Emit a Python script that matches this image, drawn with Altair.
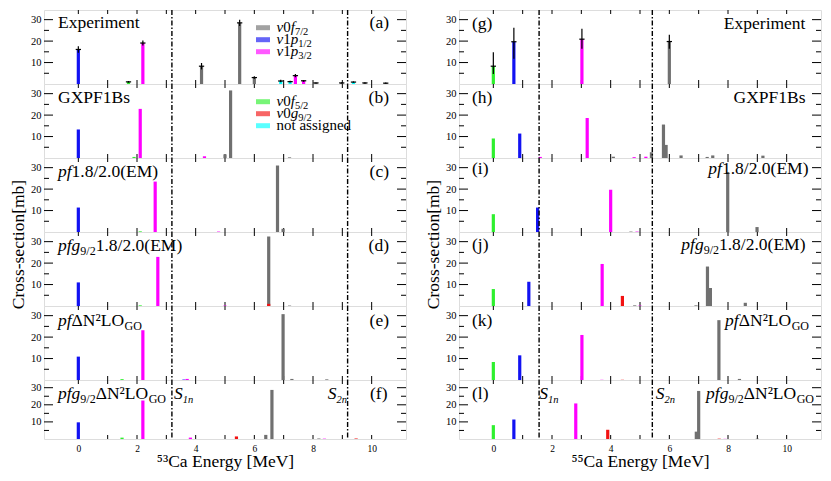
import altair as alt
import pandas as pd

FONT = "Liberation Serif"
W = 362
H = 74
HF = 59
XMIN, XMAX = -1, 11
YMAX = 34.5
BIG = 17.5
SUB = 12.0
SUBDY = 4

ORB_KEYS = ["f72", "p12", "p32", "f52", "g92", "na"]
ORB_COLORS = ["#707070", "#1212f2", "#ff00ff", "#2ef02e", "#f21212", "#00ffff"]

# ---------------- 53Ca (left column) ----------------
a_E = [0.0, 1.71, 2.2, 4.2, 5.5, 6.0, 6.9, 7.22, 7.4, 7.68, 8.1, 8.98, 9.38, 9.77, 10.48]
a_v = [16.1, 1.0, 19.1, 8.3, 28.5, 3.0, 1.4, 1.1, 3.9, 1.5, 0.5, 0.5, 0.9, 0.5, 0.4]
a_err = [1.5, 0.4, 1.2, 1.5, 1.5, 0.6, 0.6, 0.4, 0.8, 0.4, 0.2, 0.3, 0.3, 0.3, 0.3]
a_o = ["p12", "f52", "p32", "f72", "f72", "f72", "na", "na", "p32", "p32", "f72", "f72", "na", "f72", "f72"]

b_E = [0.0, 1.9, 2.11, 4.3, 5.0, 5.19, 7.2]
b_v = [13.3, 0.5, 22.9, 0.8, 1.7, 31.5, 0.3]
b_o = ["p12", "f52", "p32", "p32", "f72", "f72", "f72"]

c_E = [0.0, 2.11, 2.62, 4.78, 6.79, 6.98]
c_v = [11.4, 0.3, 23.5, 0.2, 31.0, 1.5]
c_o = ["p12", "f52", "p32", "p32", "f72", "f72"]

d_E = [0.0, 2.11, 2.71, 5.0, 6.49, 6.49, 7.2]
d_v = [11.0, 0.3, 22.9, 0.2, 32.4, 1.0, 0.2]
d_o = ["p12", "f52", "p32", "p32", "f72", "g92", "f72"]

e_E = [0.0, 1.49, 2.2, 3.6, 3.71, 6.98, 7.28, 8.47]
e_v = [10.9, 0.4, 23.2, 0.2, 0.5, 30.7, 0.5, 0.3]
e_o = ["p12", "f52", "p32", "p12", "p32", "f72", "f72", "f72"]

f_E = [0.0, 1.49, 2.2, 3.82, 5.39, 6.39, 6.6, 8.2, 8.39, 9.47]
f_v = [9.75, 0.8, 22.5, 0.8, 1.5, 2.4, 28.7, 0.3, 0.2, 0.3]
f_o = ["p12", "f52", "p32", "p32", "g92", "f72", "f72", "f72", "p32", "g92"]

S_53 = [3.19, 9.18]

# ---------------- 55Ca (right column) ----------------
g_E = [0.0, 0.7, 3.02, 6.0]
g_v = [8.3, 19.7, 20.9, 19.8]
g_lo = [4.7, 11.8, 16.4, 16.4]
g_hi = [14.8, 26.2, 25.8, 23.0]
g_o = ["f52", "p12", "p32", "f72"]

h_E = [0.0, 0.9, 1.6, 3.2, 4.09, 4.8, 5.2, 5.39, 5.8, 5.89, 6.4, 7.29, 7.48, 9.19]
h_v = [9.1, 11.4, 0.5, 18.6, 0.6, 0.4, 0.6, 2.7, 15.6, 6.1, 1.2, 0.5, 1.2, 1.1]
h_o = ["f52", "p12", "p32", "p32", "f72", "p32", "p32", "f72", "f72", "f72", "f72", "f72", "f72", "f72"]

i_E = [0.0, 1.51, 4.0, 4.69, 4.9, 7.99, 8.99]
i_v = [8.3, 11.4, 19.7, 0.2, 0.2, 28.0, 2.3]
i_o = ["f52", "p12", "p32", "f72", "p32", "f72", "f72"]

j_E = [0.0, 1.21, 3.71, 4.4, 4.82, 5.0, 6.91, 7.3, 7.4, 8.59]
j_v = [7.9, 11.3, 19.6, 4.7, 0.3, 0.2, 0.3, 18.4, 8.4, 1.5]
j_o = ["f52", "p12", "p32", "g92", "f72", "p32", "f72", "f72", "f72", "f72"]

k_E = [0.0, 0.9, 3.02, 3.7, 4.4, 7.69, 8.39]
k_v = [8.4, 11.5, 21.0, 0.1, 0.1, 27.9, 0.5]
k_o = ["f52", "p12", "p32", "p32", "g92", "f72", "f72"]

l_E = [0.0, 0.7, 2.81, 3.9, 6.92, 7.0, 7.7, 7.9, 9.0]
l_v = [8.1, 11.4, 20.8, 5.4, 4.3, 28.1, 0.2, 0.1, 0.2]
l_o = ["f52", "p12", "p32", "g92", "f72", "f72", "g92", "p32", "f72"]

S_55 = [1.56, 5.42]

Y_MAJOR = [10, 20, 30]
Y_MINOR = [5, 15, 25]
X_TICKS = list(range(0, 11))
X_LABELS = [0, 2, 4, 6, 8, 10]

# ---------------- text width estimate (Times metrics) ----------------
REG = {" ": 250, "(": 333, ")": 333, ".": 250, "/": 278, "[": 333, "]": 333,
       "A": 722, "B": 667, "C": 667, "E": 611, "F": 556, "G": 722, "L": 611,
       "M": 889, "N": 722, "O": 722, "P": 556, "S": 556, "V": 722, "X": 722,
       "a": 444, "b": 500, "c": 444, "d": 500, "e": 444, "f": 333, "g": 500,
       "h": 500, "i": 278, "j": 278, "k": 500, "l": 278, "m": 778, "n": 500,
       "o": 500, "p": 500, "r": 333, "s": 389, "t": 278, "x": 500, "y": 500,
       "Δ": 470, "²": 220, "ν": 500}
ITA = {"p": 500, "f": 278, "g": 500, "S": 500, "n": 500, "ν": 450}


def tw(s, italic, size):
    tot = 0
    for ch in s:
        if italic and ch in ITA:
            tot += ITA[ch]
        elif ch.isdigit():
            tot += 500
        else:
            tot += REG.get(ch, 500)
    return tot * size / 1000.0


def piece(s, x, y, size, italic):
    return alt.Chart(pd.DataFrame({"t": [s]})).mark_text(
        font=FONT, fontSize=size, fontStyle="italic" if italic else "normal",
        align="left", baseline="alphabetic", color="black"
    ).encode(text="t:N", x=alt.value(x), y=alt.value(y))


def rich(pieces, x, y, align="left"):
    # pieces: (text, italic, size, dy)
    widths = [tw(t, it, sz) for t, it, sz, dy in pieces]
    cur = x if align == "left" else x - sum(widths)
    out = []
    for (t, it, sz, dy), wd in zip(pieces, widths):
        out.append(piece(t, cur, y + dy, sz, it))
        cur += wd
    return out


def px(E):
    return (E - XMIN) / (XMAX - XMIN) * W


def R(t):
    return (t, False, BIG, 0)


def I(t):
    return (t, True, BIG, 0)


def Sb(t):
    return (t, False, SUB, SUBDY)


XSC = alt.Scale(domain=[XMIN, XMAX], nice=False, zero=False)
YSC = alt.Scale(domain=[0, YMAX], nice=False)


def panel(E, V, O, h, s_lines, left_lab, right_lab, lab_y, xtitle=None,
          ytitle=False, err=None, legend=None, s_labels=None):
    if xtitle:
        xaxis = alt.Axis(values=X_LABELS, ticks=False, domain=False, grid=False,
                         labelFont=FONT, labelFontSize=9.5, labelColor="black",
                         labelPadding=4, format="d", title=xtitle, titleFont=FONT,
                         titleFontSize=17.5, titleFontWeight="normal",
                         titleColor="black", titlePadding=0)
    else:
        xaxis = None
    if ytitle:
        yaxis = alt.Axis(values=Y_MAJOR, ticks=False, domain=False, grid=False,
                         labelFont=FONT, labelFontSize=10.5, labelColor="black",
                         labelPadding=3, title="Cross-section[mb]", titleFont=FONT,
                         titleFontSize=17.5, titleFontWeight="normal",
                         titleColor="black", titleAngle=270, titleX=-21, titleY=12,
                         titleAlign="center", titleBaseline="alphabetic")
    else:
        yaxis = alt.Axis(values=Y_MAJOR, ticks=False, domain=False, grid=False,
                         labelFont=FONT, labelFontSize=10.5, labelColor="black",
                         labelPadding=3, title=None)

    def X(f):
        return alt.X(f, scale=XSC, axis=xaxis)

    def Y(f):
        return alt.Y(f, scale=YSC, axis=yaxis, stack=None)

    layers = []
    ymaj = pd.DataFrame({"v": Y_MAJOR})
    ymin = pd.DataFrame({"v": Y_MINOR})
    xt = pd.DataFrame({"E": X_TICKS})
    for dfv, ln in ((ymaj, 9), (ymin, 5)):
        layers.append(alt.Chart(dfv).mark_rule(color="black", strokeWidth=1).encode(
            y=Y("v:Q"), x=alt.value(0), x2=alt.value(ln)))
        layers.append(alt.Chart(dfv).mark_rule(color="black", strokeWidth=1).encode(
            y=Y("v:Q"), x=alt.value(W - ln), x2=alt.value(W)))
    layers.append(alt.Chart(xt).mark_rule(color="black", strokeWidth=1).encode(
        x=X("E:Q"), y=alt.value(0), y2=alt.value(4)))
    layers.append(alt.Chart(xt).mark_rule(color="black", strokeWidth=1).encode(
        x=X("E:Q"), y=alt.value(h - 4), y2=alt.value(h)))

    df = pd.DataFrame({"E": E, "v": V, "orb": O})
    layers.append(alt.Chart(df).mark_bar(size=3.2).encode(
        x=X("E:Q"), y=Y("v:Q"),
        color=alt.Color("orb:N", scale=alt.Scale(domain=ORB_KEYS, range=ORB_COLORS),
                        legend=None)))

    if err is not None:
        lo, hi = err
        edf = pd.DataFrame({"E": E, "v": V, "lo": lo, "hi": hi})
        layers.append(alt.Chart(edf).mark_rule(color="black", strokeWidth=1.2).encode(
            x=X("E:Q"), y=Y("lo:Q"), y2="hi:Q"))
        layers.append(alt.Chart(edf).transform_calculate(
            e1="datum.E - 0.09", e2="datum.E + 0.09").mark_rule(
            color="black", strokeWidth=1.2).encode(
            x=X("e1:Q"), x2="e2:Q", y=Y("v:Q")))

    sdf = pd.DataFrame({"E": s_lines})
    layers.append(alt.Chart(sdf).mark_rule(color="black", strokeWidth=1.4,
                                           strokeDash=[5, 2, 1.5, 2]).encode(x=X("E:Q")))

    if left_lab:
        layers += rich(left_lab[0], left_lab[1], lab_y, "left")
    if right_lab:
        layers += rich(right_lab[0], right_lab[1], lab_y, "right")

    if legend:
        for k, (entry, col) in enumerate(legend):
            cy = [17.7, 29.7, 41.7][k]
            layers.append(alt.Chart(pd.DataFrame({"t": [0]})).mark_rect(
                color=col, opacity=0.65).encode(
                x=alt.value(212), x2=alt.value(226),
                y=alt.value(cy - 2.5), y2=alt.value(cy + 2.5)))
            layers += rich(entry, 232.5, cy + 4, "left")

    if s_labels:
        for pcs, xpos, al in s_labels:
            layers += rich(pcs, xpos, lab_y, al)

    return alt.layer(*layers).properties(width=W, height=h)


LG = 15
LS = 10.5


def nu(n, l, sub):
    return [("ν", True, LG, 0), (n, False, LG, 0), (l, True, LG, 0), (sub, False, LS, 3.5)]


SL = 10.5


def slab(num):
    return [("S", True, BIG, 0), (num + "n", True, SL, 4)]


errA = ([v - e for v, e in zip(a_v, a_err)], [v + e for v, e in zip(a_v, a_err)])

LX = 14
RX = 345
left_panels = [
    panel(a_E, a_v, a_o, H, S_53, ([R("Experiment")], LX), ([R("(a)")], RX), 18,
          err=errA,
          legend=[(nu("0", "f", "7/2"), ORB_COLORS[0]),
                  (nu("1", "p", "1/2"), ORB_COLORS[1]),
                  (nu("1", "p", "3/2"), ORB_COLORS[2])]),
    panel(b_E, b_v, b_o, H, S_53, ([R("GXPF1Bs")], LX), ([R("(b)")], RX), 19,
          legend=[(nu("0", "f", "5/2"), ORB_COLORS[3]),
                  (nu("0", "g", "9/2"), ORB_COLORS[4]),
                  ([("not assigned", False, LG, 0)], ORB_COLORS[5])]),
    panel(c_E, c_v, c_o, H, S_53, ([I("pf"), R("1.8/2.0(EM)")], LX), ([R("(c)")], RX), 19),
    panel(d_E, d_v, d_o, H, S_53, ([I("pfg"), Sb("9/2"), R("1.8/2.0(EM)")], LX),
          ([R("(d)")], RX), 19, ytitle=True),
    panel(e_E, e_v, e_o, H, S_53, ([I("pf"), R("ΔN²LO"), Sb("GO")], LX),
          ([R("(e)")], RX), 19.5),
    panel(f_E, f_v, f_o, HF, S_53, ([I("pfg"), Sb("9/2"), R("ΔN²LO"), Sb("GO")], LX),
          ([R("(f)")], 343.5), 18.5, xtitle="⁵³Ca Energy [MeV]",
          s_labels=[(slab("1"), px(S_53[0]) + 3.5, "left"),
                    (slab("2"), px(S_53[1]) - 4, "right")]),
]

errG = (g_lo, g_hi)
right_panels = [
    panel(g_E, g_v, g_o, H, S_55, ([R("(g)")], 13), ([R("Experiment")], 346.5), 18.5,
          err=errG),
    panel(h_E, h_v, h_o, H, S_55, ([R("(h)")], 13), ([R("GXPF1Bs")], 346.5), 19),
    panel(i_E, i_v, i_o, H, S_55, ([R("(i)")], 13), ([I("pf"), R("1.8/2.0(EM)")], 349.5), 15.5),
    panel(j_E, j_v, j_o, H, S_55, ([R("(j)")], 13),
          ([I("pfg"), Sb("9/2"), R("1.8/2.0(EM)")], 346.5), 17.5, ytitle=True),
    panel(k_E, k_v, k_o, H, S_55, ([R("(k)")], 13),
          ([I("pf"), R("ΔN²LO"), Sb("GO")], 350), 19.5),
    panel(l_E, l_v, l_o, HF, S_55, ([R("(l)")], 13),
          ([I("pfg"), Sb("9/2"), R("ΔN²LO"), Sb("GO")], 355), 18.5,
          xtitle="⁵⁵Ca Energy [MeV]",
          s_labels=[(slab("1"), px(S_55[0]) + 3, "left"),
                    (slab("2"), px(S_55[1]) + 3, "left")]),
]

left = alt.vconcat(*left_panels, spacing=0, bounds="flush")
right = alt.vconcat(*right_panels, spacing=0, bounds="flush")

chart = alt.hconcat(left, right, spacing=16, padding=0).configure_view(
    stroke="#222222", strokeWidth=1.4
).configure(background="white")

chart.save("out.html", embed_options={"renderer": "svg", "actions": False})
